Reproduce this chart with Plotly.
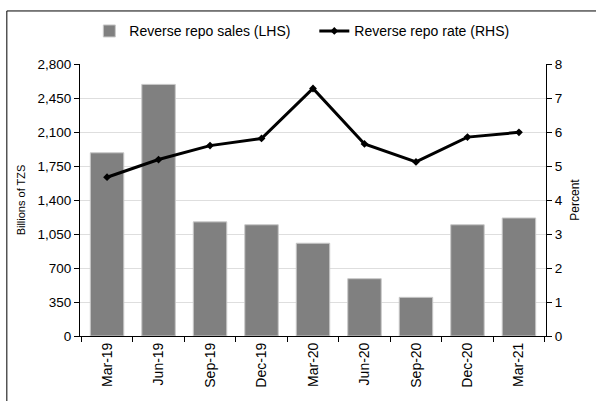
import plotly.graph_objects as go

quarters = ["Mar-19", "Jun-19", "Sep-19", "Dec-19", "Mar-20", "Jun-20", "Sep-20", "Dec-20", "Mar-21"]
repo_sales = [1886, 2590, 1175, 1145, 955, 590, 398, 1145, 1215]  # billions of TZS
repo_rate = [4.67, 5.19, 5.60, 5.81, 7.28, 5.65, 5.12, 5.85, 5.99]  # percent

left_ticks = [0, 350, 700, 1050, 1400, 1750, 2100, 2450, 2800]
right_ticks = [0, 1, 2, 3, 4, 5, 6, 7, 8]

FONT = "Liberation Sans, Arial, sans-serif"

fig = go.Figure()

fig.add_trace(go.Bar(
    x=quarters, y=repo_sales, name="Reverse repo sales (LHS)",
    marker=dict(color="#808080", line=dict(color="#c8c8c8", width=1)),
))

fig.add_trace(go.Scatter(
    x=quarters, y=repo_rate, name="Reverse repo rate (RHS)", yaxis="y2",
    mode="lines+markers",
    line=dict(color="black", width=3),
    marker=dict(symbol="diamond", size=6, color="black"),
))

fig.update_layout(
    width=596, height=401,
    margin=dict(l=80, r=50, t=64, b=65, autoexpand=False),
    paper_bgcolor="white", plot_bgcolor="white",
    font=dict(family=FONT, size=13, color="black"),
    bargap=0.35,
    showlegend=True,
    legend=dict(
        orientation="h", x=0.02, xanchor="left", y=1.12, yanchor="middle",
        font=dict(size=14), itemwidth=30, bgcolor="rgba(0,0,0,0)",
        entrywidth=180, entrywidthmode="pixels",
    ),
    xaxis=dict(
        type="category", tickangle=-90, tickson="boundaries",
        ticks="outside", ticklen=5, tickcolor="black",
        showline=True, linecolor="black", linewidth=1,
        showgrid=False, tickfont=dict(size=14), automargin=False,
    ),
    yaxis=dict(
        range=[0, 2800], tickvals=left_ticks, tickformat=",",
        ticks="outside", ticklen=5, tickcolor="black",
        showline=True, linecolor="black", linewidth=1,
        showgrid=True, gridcolor="#dedede", gridwidth=1,
        zeroline=False, tickfont=dict(size=13.5), automargin=False,
        title=dict(text="Billions of TZS", font=dict(size=11), standoff=9),
    ),
    yaxis2=dict(
        range=[0, 8], tickvals=right_ticks, overlaying="y", side="right",
        ticks="outside", ticklen=5, tickcolor="black",
        showline=True, linecolor="black", linewidth=1,
        showgrid=False, zeroline=False, tickfont=dict(size=13.5), automargin=False,
        title=dict(text="Percent", font=dict(size=12), standoff=8),
    ),
    shapes=[
        # outer chart frame: only the top and left edges are inside the window
        dict(type="line", xref="paper", yref="paper",
             x0=-0.157, x1=1.4, y0=1.195, y1=1.195,
             line=dict(color="black", width=1)),
        dict(type="line", xref="paper", yref="paper",
             x0=-0.157, x1=-0.157, y0=-0.5, y1=1.195,
             line=dict(color="black", width=1)),
    ],
)

# drop the default 8px body margin so the figure sits at the window's corner
fig.write_html("out.html", config={"displayModeBar": False},
               post_script="document.body.style.margin='0';"
                           "document.body.style.overflow='hidden';")
